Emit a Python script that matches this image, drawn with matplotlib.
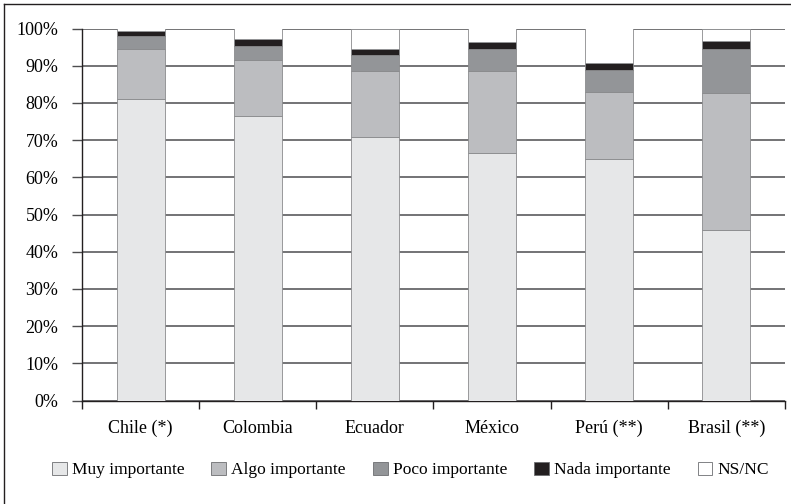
import numpy as np
import matplotlib
matplotlib.use("Agg")
import matplotlib.pyplot as plt
from matplotlib.patches import Patch
from matplotlib.lines import Line2D

categories = ["Chile (*)", "Colombia", "Ecuador", "México", "Perú (**)", "Brasil (**)"]
series_names = ["Muy importante", "Algo importante", "Poco importante", "Nada importante", "NS/NC"]
muy = [81.0, 76.6, 70.8, 66.4, 64.9, 45.8]
algo = [13.5, 14.9, 17.9, 22.2, 17.9, 36.9]
poco = [3.5, 3.8, 4.3, 6.0, 6.0, 11.9]
nada = [1.3, 1.9, 1.5, 1.8, 1.9, 2.0]
nsnc = [0.7, 2.8, 5.5, 3.6, 9.3, 3.4]
yticks = [0, 10, 20, 30, 40, 50, 60, 70, 80, 90, 100]
ytick_labels = [f"{v}%" for v in yticks]

colors = ["#e6e7e8", "#bcbdc0", "#939598", "#231f20", "#ffffff"]

plt.rcParams["font.family"] = ["Liberation Serif", "DejaVu Serif"]

fig = plt.figure(figsize=(7.91, 5.04), dpi=100)
ax = fig.add_axes([82/791, 1-400.5/504, (785-82)/791, (400.5-28.5)/504])

x = np.arange(len(categories))
bottom = np.zeros(len(categories))
for vals, col in zip([muy, algo, poco, nada, nsnc], colors):
    ax.bar(x, vals, width=0.41, bottom=bottom, color=col, edgecolor="#8a8b8d",
           linewidth=0.6, zorder=3)
    bottom += np.array(vals)

ax.set_xlim(-0.5, len(categories) - 0.5)
ax.set_ylim(0, 100)
ax.set_yticks(yticks)
ax.set_yticklabels(ytick_labels, fontsize=13)
ax.yaxis.grid(True, color="#4d4d4f", linewidth=1.1, zorder=0)
ax.set_axisbelow(True)

ax.set_xticks(np.arange(-0.5, len(categories), 1.0))
ax.set_xticklabels([])
ax.set_xticks(x, minor=True)
ax.set_xticklabels(categories, minor=True, fontsize=13)
ax.tick_params(axis="x", which="minor", length=0, pad=14)
ax.tick_params(axis="x", which="major", length=6, width=1, color="#231f20", direction="out")
ax.tick_params(axis="y", length=7, width=1, color="#4d4d4f", direction="out", pad=10)

for s in ["top", "right"]:
    ax.spines[s].set_visible(False)
ax.spines["left"].set_color("#231f20")
ax.spines["bottom"].set_color("#231f20")
ax.spines["left"].set_linewidth(1.0)
ax.spines["bottom"].set_linewidth(1.0)

handles = [Patch(facecolor=c, edgecolor="#6d6e71", linewidth=0.6) for c in colors]
fig.legend(handles, series_names, loc="center", bbox_to_anchor=(0.519, 1-470/504),
           ncol=5, frameon=False, fontsize=12.5, handlelength=0.85, handleheight=0.85,
           handletextpad=0.3, columnspacing=1.55)

# outer frame
fig.add_artist(Line2D([4/791, 4/791], [0, 1-4/504], transform=fig.transFigure,
                      color="#231f20", linewidth=1.0))
fig.add_artist(Line2D([4/791, 1], [1-4/504, 1-4/504], transform=fig.transFigure,
                      color="#231f20", linewidth=1.0))

fig.savefig("out.png", dpi=100)
